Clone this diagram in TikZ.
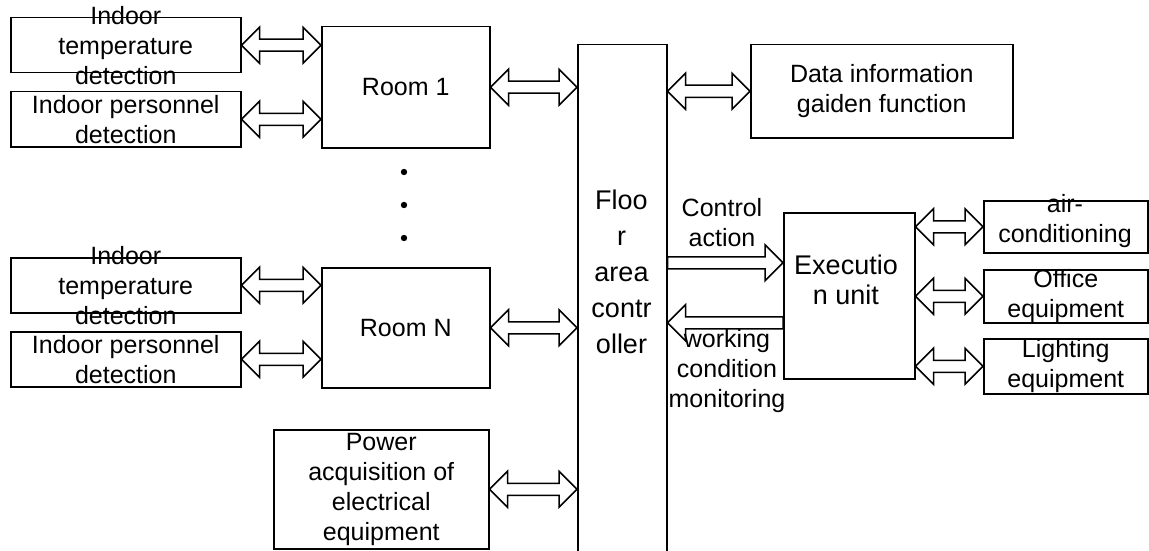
\documentclass[tikz,border=0pt]{standalone}
\usepackage{fontspec}
\setmainfont{Liberation Sans}
\usetikzlibrary{calc}
\usetikzlibrary{positioning}

% hollow block arrows, tip end given second
\newcommand{\oneway}[2]{%
  \path (#1) coordinate (atail) (#2) coordinate (atip)
        ($(atip)!18pt!(atail)$) coordinate (atipbase);
  \draw[blockarrow] ([yshift=6pt]atail) -- ([yshift=6pt]atipbase)
                    -- ([yshift=18pt]atipbase) -- (atip)
                    -- ([yshift=-18pt]atipbase) -- ([yshift=-6pt]atipbase)
                    -- ([yshift=-6pt]atail) -- cycle;}
\newcommand{\twoway}[2]{%
  \path (#1) coordinate (atail) (#2) coordinate (atip)
        ($(atip)!18pt!(atail)$) coordinate (atipbase)
        ($(atail)!18pt!(atip)$) coordinate (atailbase);
  \draw[blockarrow] (atail) -- ([yshift=18pt]atailbase) -- ([yshift=6pt]atailbase)
                    -- ([yshift=6pt]atipbase) -- ([yshift=18pt]atipbase) -- (atip)
                    -- ([yshift=-18pt]atipbase) -- ([yshift=-6pt]atipbase)
                    -- ([yshift=-6pt]atailbase) -- ([yshift=-18pt]atailbase) -- cycle;}

\begin{document}
\begin{tikzpicture}[
    x=1pt, y=1pt,
    box/.style={rectangle, draw, line width=1.5pt, inner sep=0pt, anchor=north west},
    txt/.style={align=center, inner sep=0pt, font=\fontsize{25}{30}\selectfont},
    bigtxt/.style={align=center, inner sep=0pt, font=\fontsize{27}{36}\selectfont},
    blockarrow/.style={draw, line width=1.5pt, line join=miter}
]

\useasboundingbox (0,0) rectangle (1149,-551);

% rooms and their sensors
\node[box, minimum width=230pt, minimum height=55pt] (tempA) at (10,-17) {};
\node[box, minimum width=230pt, minimum height=55pt] (persA) at (10,-91) {};
\node[box, minimum width=168pt, minimum height=121pt] (room1) at (321,-26) {};
\node[box, minimum width=230pt, minimum height=55pt] (tempN) at (10,-257) {};
\node[box, minimum width=230pt, minimum height=55pt] (persN) at (10,-331) {};
\node[box, minimum width=168pt, minimum height=120pt] (roomN) at (321,-267) {};
\node[box, minimum width=215pt, minimum height=119pt] (power) at (273,-429) {};

\node[txt] (tempAtxt) at (tempA) {Indoor\\temperature\\detection};
\node[txt] (persAtxt) at (persA) {Indoor personnel\\detection};
\node[txt] (room1txt) at (room1) {Room 1};
\node[txt] (tempNtxt) at (tempN) {Indoor\\temperature\\detection};
\node[txt] (persNtxt) at (persN) {Indoor personnel\\detection};
\node[txt] (roomNtxt) at (roomN) {Room N};
\node[txt] (powertxt) at (power) {Power\\acquisition of\\electrical\\equipment};

\foreach \y in {172,205,238}
    \fill (404,-\y) circle (3.2);

% controller and the right hand side
\node[box, minimum width=89pt, minimum height=560pt] (ctrl) at (577,-44) {};
\node[bigtxt] (ctrltxt) at (621.5,-272) {Floo\\r\\area\\contr\\oller};

\node[box, minimum width=262pt, minimum height=93pt] (data) at (750,-44) {};
\node[txt] (datatxt) at (data) {Data information\\gaiden function};

\node[box, minimum width=131pt, minimum height=166pt] (exec) at (783,-212) {};
\node[font=\fontsize{27}{30}\selectfont, align=center, inner sep=0pt] (exectxt) at (846,-280) {Executio\\n unit};

\node[box, minimum width=164pt, minimum height=52pt] (air) at (983,-200) {};
\node[box, minimum width=164pt, minimum height=53pt] (office) at (983,-269) {};
\node[box, minimum width=164pt, minimum height=55pt] (light) at (983,-338) {};
\node[txt] (airtxt) at (1065,-221) {air-\\conditioning};
\node[txt] (officetxt) at (office) {Office\\equipment};
\node[txt] (lighttxt) at (light) {Lighting\\equipment};

% two-way links
\twoway{tempA.east}{room1.west |- tempA.east}
\twoway{persA.east}{room1.west |- persA.east}
\twoway{tempN.east}{roomN.west |- tempN.east}
\twoway{persN.east}{roomN.west |- persN.east}
\twoway{room1.east}{ctrl.west |- room1.east}
\twoway{roomN.east}{ctrl.west |- roomN.east}
\twoway{power.east}{ctrl.west |- power.east}
\twoway{ctrl.east |- data.west}{data.west}
\twoway{exec.east |- air.west}{air.west}
\twoway{exec.east |- office.west}{office.west}
\twoway{exec.east |- light.west}{light.west}

% control action and monitoring
\coordinate (actin) at ([yshift=33pt]exec.west);
\coordinate (monout) at ([yshift=-27pt]exec.west);
\oneway{ctrl.east |- actin}{actin}
\oneway{monout}{ctrl.east |- monout}
\node[txt] (actlbl) at (722,-223) {Control\\action};
\node[txt] (monlbl) at (727,-371) {working\\condition\\monitoring};

\end{tikzpicture}
\end{document}
